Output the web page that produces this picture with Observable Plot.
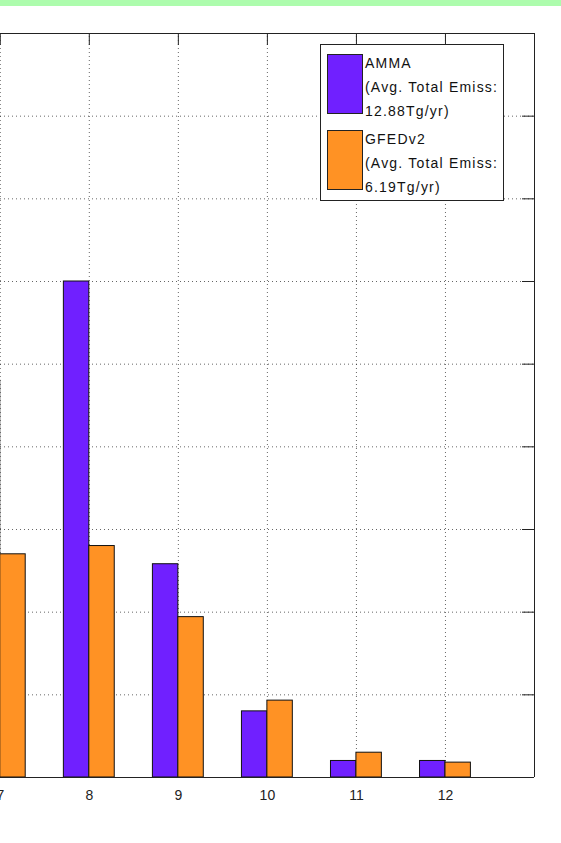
<!DOCTYPE html>
<html>
<head>
<meta charset="utf-8">
<script src="https://cdn.jsdelivr.net/npm/d3@7"></script>
<script src="https://cdn.jsdelivr.net/npm/@observablehq/plot@0.6"></script>
<style>
  html, body { margin: 0; padding: 0; background: #fff; }
  body { width: 561px; height: 843px; overflow: hidden; position: relative; font-family: "Liberation Sans", Arial, sans-serif; }
  #band { position: absolute; left: 0; top: 0; width: 561px; height: 6px; background: #adfcad; z-index: 2; }
  #chart { position: absolute; left: 0; top: 0; }
  #legend { position: absolute; left: 320px; top: 44px; width: 184px; height: 157px; box-sizing: border-box;
            border: 1px solid #222; background: #fff; z-index: 3; }
  .sw { position: absolute; left: 6px; width: 36px; height: 60px; box-sizing: border-box; border: 1px solid #222; }
  .lt { position: absolute; left: 44px; font-size: 14px; line-height: 24px; letter-spacing: 1.2px; color: #111; white-space: pre; }
</style>
</head>
<body>
<div id="band"></div>
<div id="chart"></div>
<div id="legend"></div>
<script>
// ---- data ----
const months = [7, 8, 9, 10, 11, 12];
const ammaValues = [2.4, 3.0, 1.29, 0.40, 0.10, 0.10];
const gfedValues = [1.35, 1.40, 0.97, 0.465, 0.15, 0.09];
const seriesNames = ["AMMA", "GFEDv2"];
const seriesTotals = ["12.88", "6.19"];
const seriesColors = ["#7020ff", "#ff9224"];
const xTicks = [7, 8, 9, 10, 11, 12];
const yTicks = [0.5, 1, 1.5, 2, 2.5, 3, 3.5, 4];
const yMax = 4.5;

// ---- layout ----
const BW = 2 / 7; // bar width in category units (grouped bars)
const rows = months.flatMap((m, i) => [
  {month: m, series: seriesNames[0], v: ammaValues[i], x1: m - BW, x2: m},
  {month: m, series: seriesNames[1], v: gfedValues[i], x1: m, x2: m + BW}
]);

const W = 561, H = 843, mTop = 33, mBottom = 66, mRight = 27;
const frameH = H - mTop - mBottom;
const tickLen = 12;
const dotted = {stroke: "#000", strokeOpacity: 0.6, strokeDasharray: "1,3"};

const chart = Plot.plot({
  width: W,
  height: H,
  marginLeft: 0,
  marginRight: mRight,
  marginTop: mTop,
  marginBottom: mBottom,
  x: {type: "linear", domain: [0, 13], range: [-623.5, W - mRight], axis: null},
  y: {domain: [0, yMax], axis: null},
  color: {domain: seriesNames, range: seriesColors},
  style: {fontFamily: "'Liberation Sans', Arial, sans-serif", fontSize: "14px", background: "white", overflow: "hidden"},
  marks: [
    Plot.ruleY(yTicks, dotted),
    Plot.ruleX(xTicks, {y1: 0, y2: yMax, ...dotted}),
    Plot.rect(rows, {x1: "x1", x2: "x2", y1: 0, y2: "v", fill: "series", stroke: "#111", strokeWidth: 1}),
    Plot.tickY(yTicks, {insetLeft: W - mRight - tickLen, stroke: "#222"}),
    Plot.tickX(xTicks, {insetBottom: frameH - tickLen, stroke: "#222"}),
    Plot.ruleY([0, yMax], {stroke: "#222", strokeWidth: 1}),
    Plot.ruleX([13], {y1: 0, y2: yMax, stroke: "#222", strokeWidth: 1}),
    Plot.text(xTicks, {x: d => d, frameAnchor: "bottom", dy: 22, text: d => String(d), fill: "#222", fontSize: 14})
  ]
});
document.getElementById("chart").appendChild(chart);

// ---- legend ----
const legend = document.getElementById("legend");
seriesNames.forEach((name, i) => {
  const sw = document.createElement("div");
  sw.className = "sw";
  sw.style.top = (9 + i * 76) + "px";
  sw.style.background = seriesColors[i];
  legend.appendChild(sw);
  const t = document.createElement("div");
  t.className = "lt";
  t.style.top = (6 + i * 76) + "px";
  t.textContent = name + "\n(Avg. Total Emiss:\n" + seriesTotals[i] + "Tg/yr)";
  legend.appendChild(t);
});
</script>
</body>
</html>
